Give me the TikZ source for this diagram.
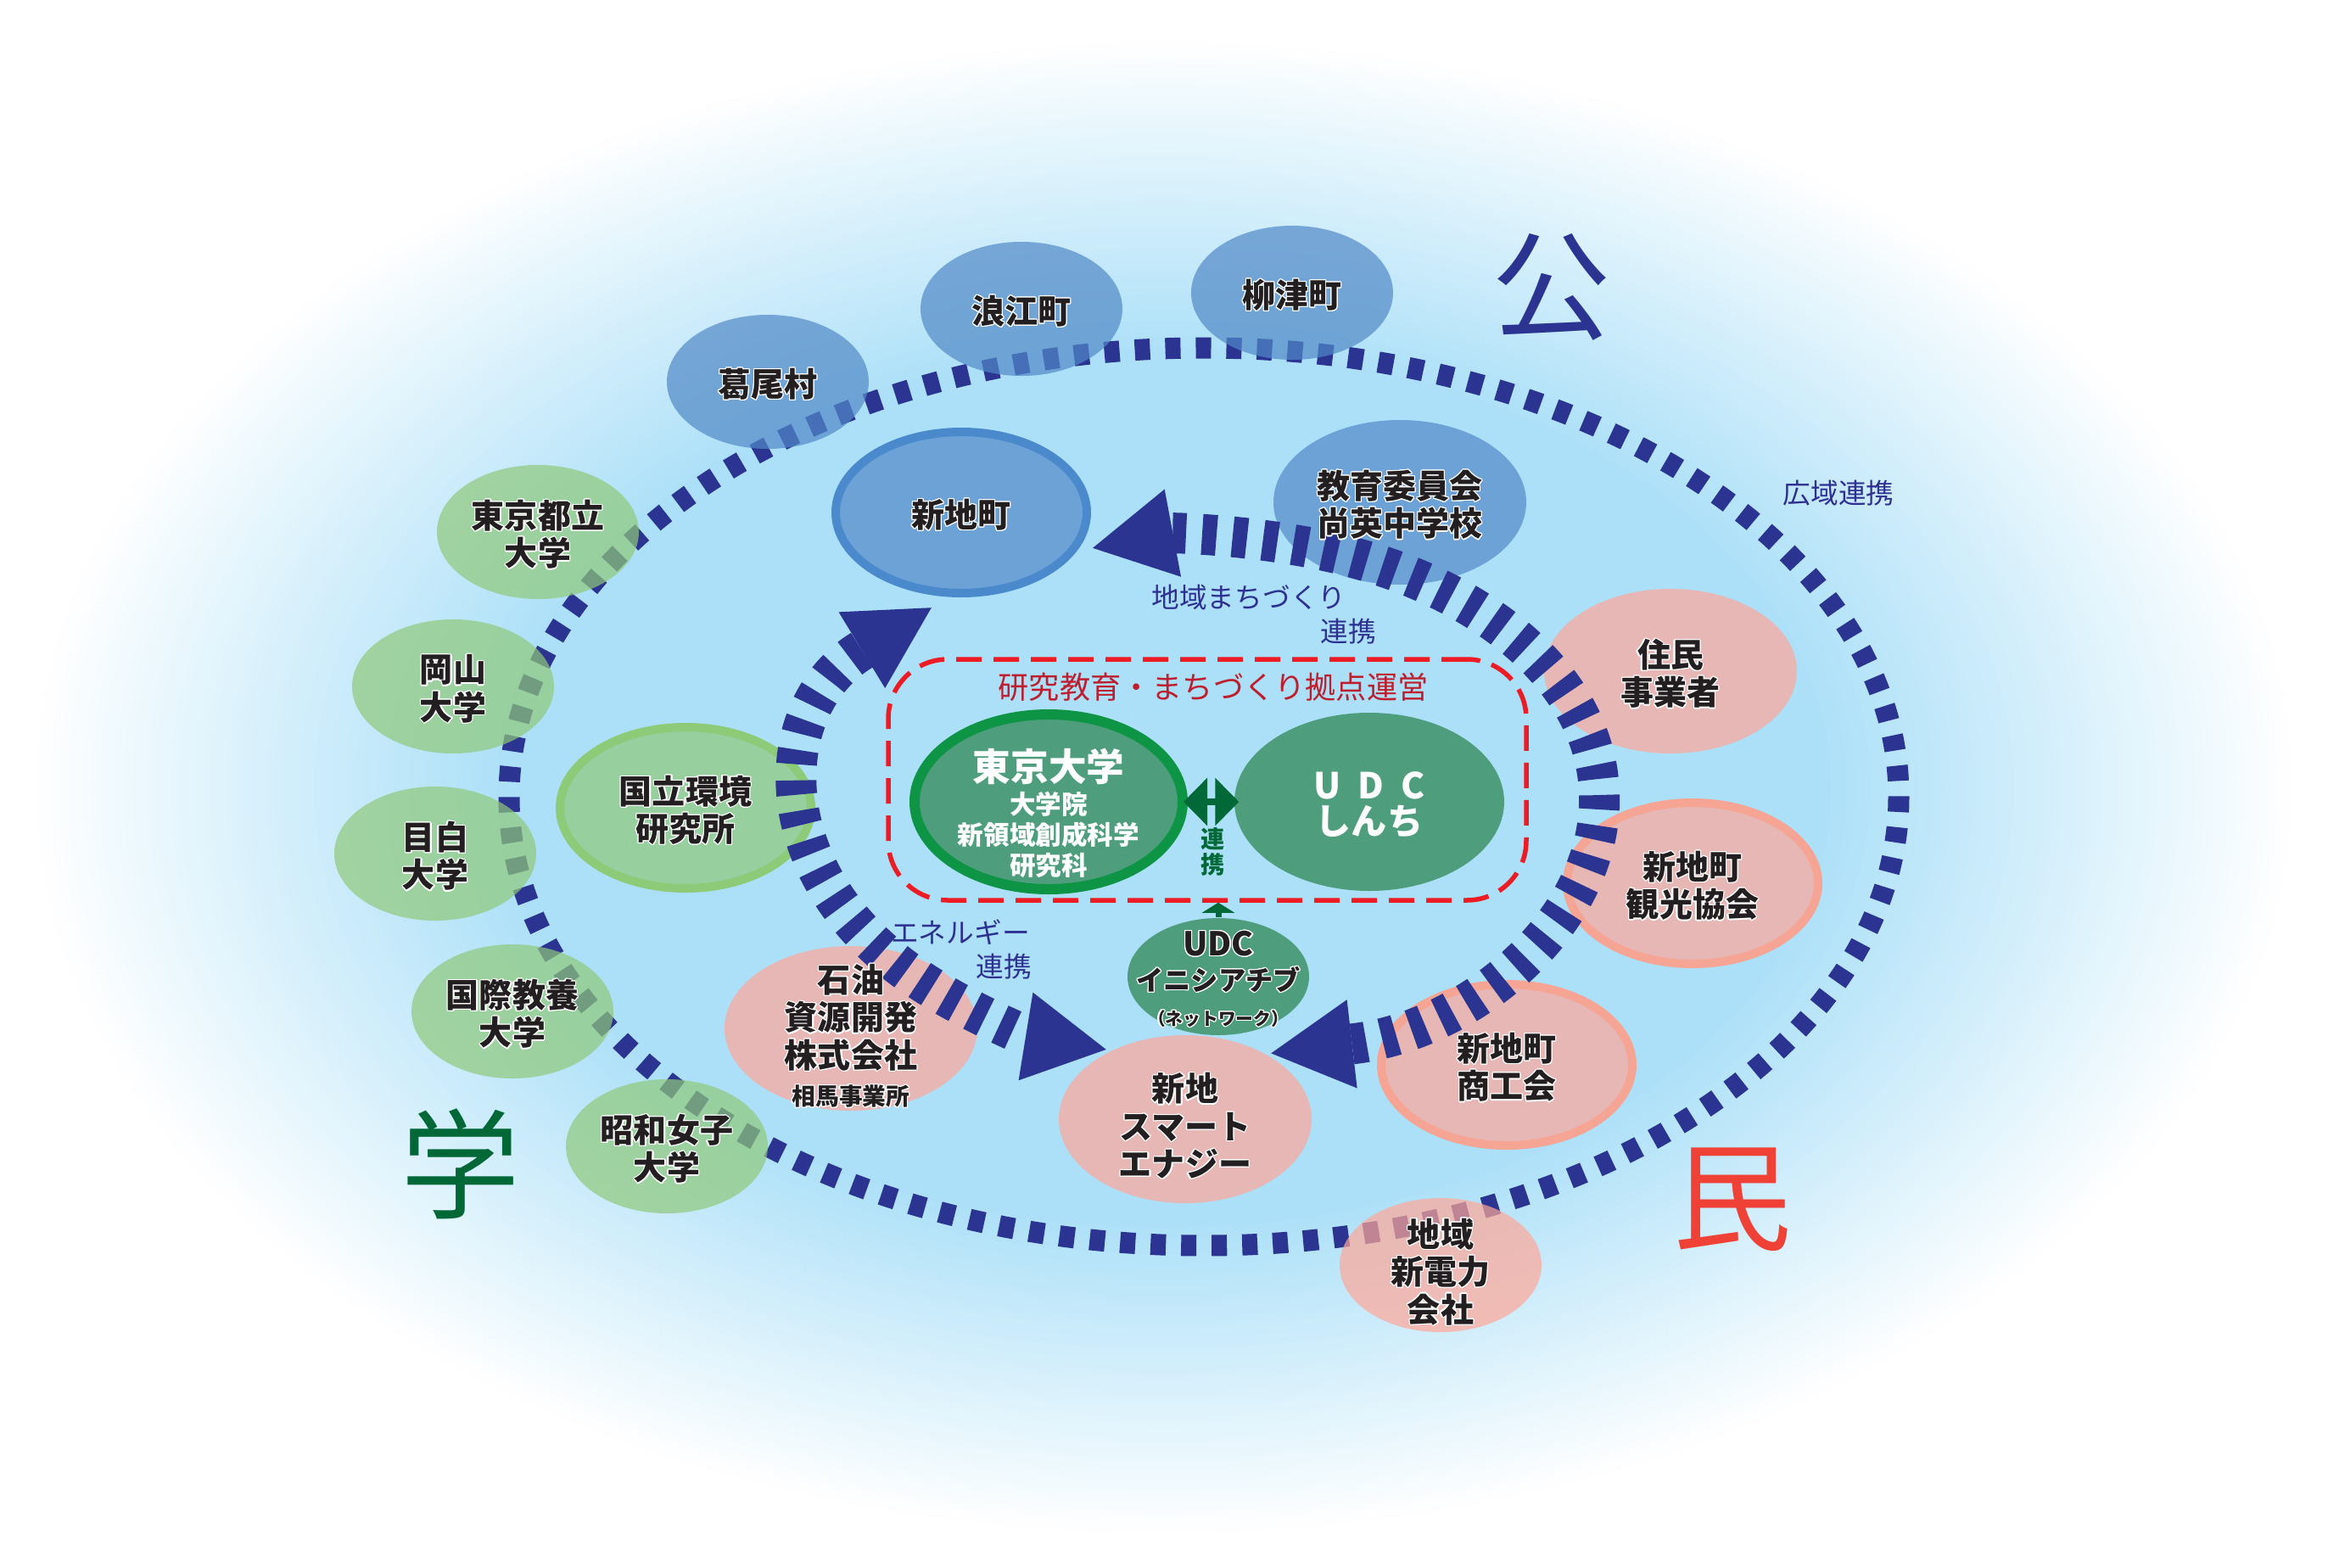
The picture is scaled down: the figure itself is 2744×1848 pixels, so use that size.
\documentclass[tikz,border=0pt]{standalone}
\usepackage{fontspec}
\setmainfont{Noto Sans CJK JP}
\usepackage[copies]{contour}
\contourlength{0.35pt}
\contournumber{16}
\newcommand{\hl}[1]{\contour{white}{#1}}
\usetikzlibrary{shapes.geometric,arrows.meta,positioning}
\definecolor{bgblue}{RGB}{172,224,248}
\definecolor{ringblue}{RGB}{43,53,145}
\definecolor{koufill}{RGB}{81,137,199}
\definecolor{kouedge}{RGB}{74,137,203}
\definecolor{gakufill}{RGB}{143,201,122}
\definecolor{gakuedge}{RGB}{141,203,120}
\definecolor{tamifill}{RGB}{255,167,152}
\definecolor{tamiedge}{RGB}{246,164,148}
\definecolor{hubfill}{RGB}{78,158,126}
\definecolor{hubedge}{RGB}{14,148,69}
\definecolor{linkgreen}{RGB}{0,105,55}
\definecolor{hubred}{RGB}{237,28,36}
\definecolor{titlered}{RGB}{190,30,45}
\definecolor{notenavy}{RGB}{46,49,146}
\definecolor{txtblack}{RGB}{35,31,32}
\definecolor{gakudark}{RGB}{0,104,55}
\definecolor{tamired}{RGB}{239,65,54}
\tikzset{>=Triangle,
  blob/.style={ellipse, inner sep=0pt, outer sep=0pt, fill opacity=0.7, text opacity=1},
  size s/.style={minimum width=23.8mm, minimum height=15.8mm},
  size m/.style={minimum width=29.8mm, minimum height=19.4mm},
  size b/.style={line width=1mm, minimum width=29.6mm, minimum height=19mm},
  kou/.style={blob, fill=koufill},
  gaku/.style={blob, fill=gakufill},
  tami/.style={blob, fill=tamifill},
  hubcore/.style={ellipse, fill=hubfill, inner sep=0pt},
  lbl/.style={font=\bfseries\fontsize{11.1}{12.6}\selectfont, text=txtblack, align=center, inner sep=0pt, yshift=-0.35mm},
  whitelbl/.style={lbl, text=white},
  note/.style={font=\fontsize{9.3}{11}\selectfont, text=notenavy, inner sep=0pt},
  bigchar/.style={font=\fontsize{40}{40}\selectfont, inner sep=0pt},
  outerring/.style={draw=ringblue, line width=2.5mm, dash pattern=on 1.8mm off 1.8mm},
  innerring/.style={draw=ringblue, line width=4.8mm, dash pattern=on 1.7mm off 1.9mm,
    {Triangle[length=9.6mm,width=10.5mm,line width=0pt]}-{Triangle[length=9.6mm,width=10.5mm,line width=0pt]}}
}
\begin{document}
\begin{tikzpicture}[x=0.1mm, y=-0.1mm]
  \useasboundingbox (0,0) rectangle (2744,1848);
  \foreach \k in {0,...,60}{
    \pgfmathsetmacro\s{1-0.42*\k/60}
    \pgfmathsetmacro\p{100*\k/60}
    \fill[bgblue!\p!white] (1372,928) ellipse [x radius={1339*\s}, y radius={884*\s}];
  }
  \draw[outerring] (1419,939) ellipse [x radius=819, y radius=529];

  \node[kou, size s] (katsurao) at (905,450) {};
  \node[kou, size s] (namie) at (1204,364) {};
  \node[kou, size s] (yanaizu) at (1523,345) {};
  \node[kou, size b, draw=kouedge] (shinchi) at (1133,604) {};
  \node[kou, size m] (kyoiku) at (1650,592) {};
  \node[gaku, size s] (tmu) at (634,627) {};
  \node[gaku, size s] (okayama) at (534,809) {};
  \node[gaku, size s] (mejiro) at (513,1006) {};
  \node[gaku, size s] (aiu) at (604,1192) {};
  \node[gaku, size s] (showa) at (786,1351) {};
  \node[gaku, size b, draw=gakuedge] (nies) at (808,952) {};
  \node[tami, size m] (jumin) at (1969,791) {};
  \node[tami, size b, draw=tamiedge] (kanko) at (1995,1041) {};
  \node[tami, size b, draw=tamiedge] (shoko) at (1776,1255) {};
  \node[tami, size s] (denryoku) at (1698,1491) {};
  \node[tami, size m] (japex) at (1003,1212) {};
  \node[tami, size m, minimum height=19.8mm] (smart) at (1397,1319) {};

  \coordinate (core) at (1417,940);
  \draw[innerring] (core) ++(80:468 and 306) arc[start angle=80, end angle=-106, x radius=468, y radius=306];
  \draw[innerring] (core) ++(-133:468 and 306) arc[start angle=-133, end angle=-256, x radius=468, y radius=306];

  \node[lbl] (katsurao-t) at (katsurao) {\hl{葛尾村}};
  \node[lbl] (namie-t) at (namie) {\hl{浪江町}};
  \node[lbl] (yanaizu-t) at (yanaizu) {\hl{柳津町}};
  \node[lbl] (shinchi-t) at (shinchi) {\hl{新地町}};
  \node[lbl] (kyoiku-t) at (kyoiku) {\hl{教育委員会}\\\hl{尚英中学校}};
  \node[lbl] (tmu-t) at (tmu) {\hl{東京都立}\\\hl{大学}};
  \node[lbl] (okayama-t) at (okayama) {\hl{岡山}\\\hl{大学}};
  \node[lbl] (mejiro-t) at (mejiro) {\hl{目白}\\\hl{大学}};
  \node[lbl] (aiu-t) at (aiu) {\hl{国際教養}\\\hl{大学}};
  \node[lbl] (showa-t) at (showa) {\hl{昭和女子}\\\hl{大学}};
  \node[lbl] (nies-t) at (nies) {\hl{国立環境}\\\hl{研究所}};
  \node[lbl] (jumin-t) at (jumin) {\hl{住民}\\\hl{事業者}};
  \node[lbl] (kanko-t) at (kanko) {\hl{新地町}\\\hl{観光協会}};
  \node[lbl] (shoko-t) at (shoko) {\hl{新地町}\\\hl{商工会}};
  \node[lbl] (denryoku-t) at ([yshift=-0.5mm]denryoku) {\hl{地域}\\\hl{新電力}\\\hl{会社}};
  \node[lbl] (japex-t) at ([yshift=-0.6mm]japex) {\hl{石油}\\\hl{資源開発}\\\hl{株式会社}\\{\fontsize{7.9}{9}\selectfont\hl{相馬事業所}}};
  \node[lbl] (smart-t) at ([yshift=-0.5mm]smart) {\hl{新地}\\\hl{スマート}\\\hl{エナジー}};

  \node[draw=hubred, line width=0.55mm, dash pattern=on 3mm off 1.4mm, rounded corners=7mm,
    minimum width=75.2mm, minimum height=28.4mm, inner sep=0pt] (hub) at (1423,919) {};
  \node[font=\fontsize{10.3}{12}\selectfont, text=titlered, inner sep=0pt] (hub-t) at (1430,810) {研究教育・まちづくり拠点運営};
  \node[hubcore, draw=hubedge, line width=1.2mm, minimum width=31.6mm, minimum height=20.6mm] (todai) at (1236,945) {};
  \node[hubcore, minimum width=31.8mm, minimum height=21mm] (udc) at (1614,945) {};
  \node[hubcore, minimum width=21.4mm, minimum height=13.8mm] (udci) at (1436,1151) {};
  \draw[linkgreen, line width=0.8mm, {Triangle[length=2.8mm,width=5.5mm]}-{Triangle[length=2.8mm,width=5.5mm]}]
    ([xshift=-0.5mm]todai.east) -- ([xshift=0.6mm]udc.west);
  \draw[linkgreen, line width=0.7mm, -{Triangle[length=1.2mm,width=3.8mm]}] (udci.north) -- (udci.north |- hub.south);

  \node[whitelbl, font=\bfseries\fontsize{8.7}{10.2}\selectfont, yshift=0pt] (todai-t) at ([yshift=-1mm]todai)
    {{\fontsize{12.7}{13.4}\selectfont 東京大学}\\[1pt]大学院\\新領域創成科学\\研究科};
  \node[whitelbl, font=\bfseries\fontsize{12}{12.2}\selectfont] (udc-t) at (udc) {U\hspace{2mm}D\hspace{2mm}C\\しんち};
  \node[lbl, font=\bfseries\fontsize{9.2}{11.6}\selectfont] (udci-t) at (udci)
    {{\fontsize{11}{12}\selectfont\hl{UDC}}\\\hl{イニシアチブ}\\{\fontsize{5.9}{10}\selectfont\hl{（ネットワーク）}}};
  \node[font=\bfseries\fontsize{8}{7.4}\selectfont, text=linkgreen, align=center, inner sep=0pt] (renkei-c) at (1430,1004) {連\\携};

  \node[note] (kouiki) at (2167,581) {広域連携};
  \node[note] (machi) at (1472,704) {地域まちづくり};
  \node[note] (machi-r) at (1589,744) {連携};
  \node[note] (energy) at (1132,1099) {エネルギー};
  \node[note] (energy-r) at (1183,1139) {連携};

  \node[bigchar, text=ringblue] (ch-ko) at (1829,338) {公};
  \node[bigchar, text=gakudark] (ch-gaku) at (543,1372) {学};
  \node[bigchar, text=tamired] (ch-tami) at (2042,1414) {民};
\end{tikzpicture}
\end{document}
